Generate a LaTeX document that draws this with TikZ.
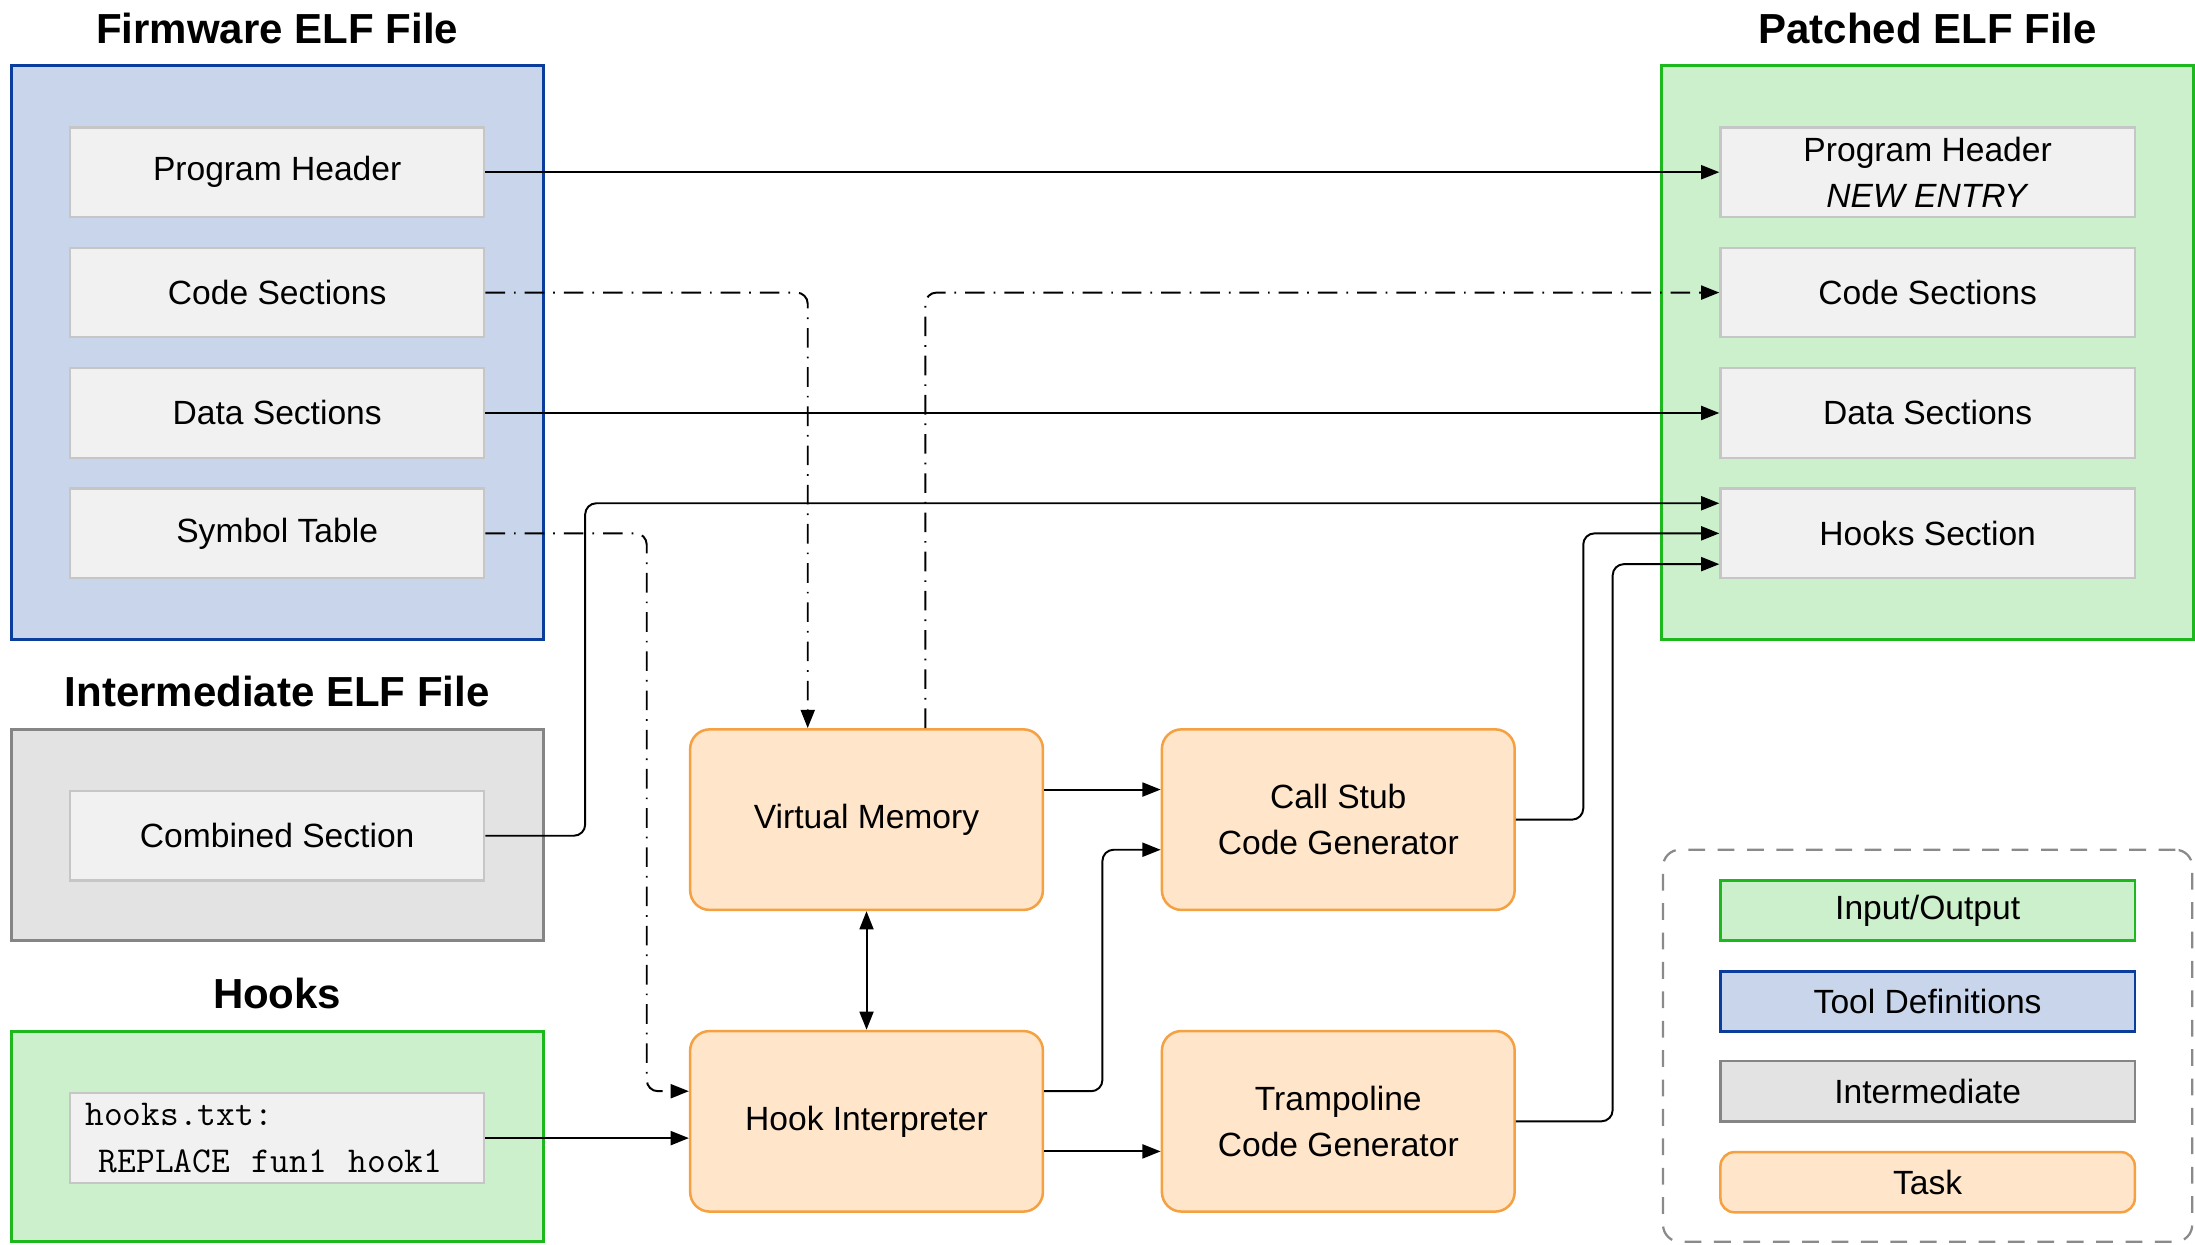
\documentclass[tikz,border=0pt]{standalone}
\usepackage{fontspec}
\setmainfont{Liberation Sans}
\usetikzlibrary{arrows.meta}

\definecolor{bluefill}{HTML}{C9D5EA}
\definecolor{blueline}{HTML}{0B3D9C}
\definecolor{greenfill}{HTML}{CCF0CC}
\definecolor{greenline}{HTML}{1DB81D}
\definecolor{grayfill}{HTML}{E3E3E3}
\definecolor{grayline}{HTML}{858585}
\definecolor{secfill}{HTML}{F1F1F1}
\definecolor{secline}{HTML}{C6C6C6}
\definecolor{taskfill}{HTML}{FFE5C9}
\definecolor{taskline}{HTML}{F5A142}
\definecolor{legline}{HTML}{8A8A8A}

% one full character cell of the monospaced font
\newcommand\monosp{\hspace{0.6em}}

\begin{document}
\begin{tikzpicture}[x=0.5pt,y=-0.5pt,
  font=\fontsize{12}{16.5}\selectfont,
  container/.style={line width=1.1pt, minimum width=190pt, inner sep=0pt},
  fwbox/.style={container, draw=blueline, fill=bluefill, minimum height=205pt},
  outbox/.style={container, draw=greenline, fill=greenfill},
  midbox/.style={container, draw=grayline, fill=grayfill},
  section/.style={draw=secline, fill=secfill, line width=0.8pt,
    minimum width=148pt, minimum height=32pt, inner sep=0pt, align=center},
  task/.style={draw=taskline, fill=taskfill, line width=0.9pt, rounded corners=7pt,
    minimum width=126pt, minimum height=64.5pt, inner sep=0pt, align=center},
  title/.style={font=\fontsize{15}{18}\selectfont\bfseries},
  legitem/.style={minimum width=148pt, minimum height=21.5pt, line width=0.9pt,
    inner sep=0pt, align=center},
  tip/.tip={Triangle[length=6.5pt,width=5pt]},
  conn/.style={line width=0.7pt, rounded corners=4pt, -tip},
  dashdot/.style={dash pattern=on 7pt off 3.2pt on 0.6pt off 3.2pt}
]
\useasboundingbox (0,0) rectangle (1568,889);

% --- input firmware ---
\node[fwbox] (fw) at (198,252) {};
\node[title] (fwtitle) at (198,20) {Firmware ELF File};
\node[section] (ph) at (198,123) {Program Header};
\node[section] (cs) at (198,209) {Code Sections};
\node[section] (ds) at (198,295) {Data Sections};
\node[section] (st) at (198,381) {Symbol Table};

% --- intermediate file ---
\node[midbox, minimum height=75.5pt] (mid) at (198,596.5) {};
\node[title] (midtitle) at (198,494) {Intermediate ELF File};
\node[section] (comb) at (198,597) {Combined Section};

% --- hook description ---
\node[outbox, minimum height=75pt] (hk) at (198,812) {};
\node[title] (hktitle) at (198,710) {Hooks};
\node[section, text width=137pt, inner xsep=5.5pt, align=left,
  font={\fontsize{13}{16.5}\selectfont\ttfamily}] (htxt) at (198,813)
  {hooks.txt:\\\hspace*{4.8pt}REPLACE\monosp fun1\monosp hook1};

% --- output file ---
\node[outbox, minimum height=205pt] (pt) at (1377,252) {};
\node[title] (pttitle) at (1377,20) {Patched ELF File};
\node[section] (ph2) at (1377,123) {Program Header\\\textit{NEW ENTRY}};
\node[section] (cs2) at (1377,209) {Code Sections};
\node[section] (ds2) at (1377,295) {Data Sections};
\node[section] (hs) at (1377,381) {Hooks Section};

% --- tasks ---
\node[task] (vm) at (619,585.5) {Virtual Memory};
\node[task] (hi) at (619,801) {Hook Interpreter};
\node[task] (csg) at (956,585.5) {Call Stub\\Code Generator};
\node[task] (tcg) at (956,801) {Trampoline\\Code Generator};

% --- legend ---
\node[draw=legline, line width=0.8pt, dash pattern=on 6pt off 4.5pt,
  rounded corners=6pt, minimum width=189pt, minimum height=140pt] (leg) at (1377,747) {};
\node[legitem, draw=greenline, fill=greenfill] (lio) at (1377,650.5) {Input/Output};
\node[legitem, draw=blueline, fill=bluefill] (ltd) at (1377,715.5) {Tool Definitions};
\node[legitem, draw=grayline, fill=grayfill] (lim) at (1377,779.5) {Intermediate};
\node[legitem, draw=taskline, fill=taskfill, rounded corners=5pt] (ltk) at (1377,844.5) {Task};

% --- ports and bend points of the routed connectors ---
\coordinate (vmin)  at ([xshift=-21pt]vm.north);
\coordinate (vmout) at ([xshift=21pt]vm.north);
\coordinate (vmcs)  at ([yshift=10.75pt]vm.east);
\coordinate (csvm)  at ([yshift=10.75pt]csg.west);
\coordinate (cshi)  at ([yshift=-10.75pt]csg.west);
\coordinate (hiinA) at ([yshift=10.75pt]hi.west);
\coordinate (hiout) at ([yshift=10.75pt]hi.east);
\coordinate (hitc)  at ([yshift=-10.75pt]hi.east);
\coordinate (tchi)  at ([yshift=-10.75pt]tcg.west);
\coordinate (hsA)   at ([yshift=10.75pt]hs.west);
\coordinate (hsC)   at ([yshift=-11pt]hs.west);
\coordinate (stx)   at (462,381);
\coordinate (cbx)   at (418,597);
\coordinate (csx)   at (1131,585.5);
\coordinate (tcx)   at (1152,801);
\coordinate (hix)   at (787.5,700);

% --- connectors ---
\draw[conn] (ph.east) -- (ph2.west);
\draw[conn] (ds.east) -- (ds2.west);
\draw[conn, dashdot] (cs.east) -| (vmin);
\draw[conn, dashdot] (vmout) |- (cs2.west);
\draw[conn, dashdot] (st.east) -- (stx) -- (stx |- hiinA) -- (hiinA);
\draw[conn] (comb.east) -- (cbx) -- (cbx |- hsA) -- (hsA);
\draw[conn] (csg.east) -- (csx) -- (csx |- hs.west) -- (hs.west);
\draw[conn] (tcg.east) -- (tcx) -- (tcx |- hsC) -- (hsC);
\draw[conn] (vmcs) -- (csvm);
\draw[conn] (hiout) -- (hix |- hiout) -- (hix |- cshi) -- (cshi);
\draw[conn] (hitc) -- (tchi);
\draw[line width=0.7pt, tip-tip] (vm.south) -- (hi.north);
\draw[conn] (htxt.east) -- (htxt.east -| hi.west);
\end{tikzpicture}
\end{document}
